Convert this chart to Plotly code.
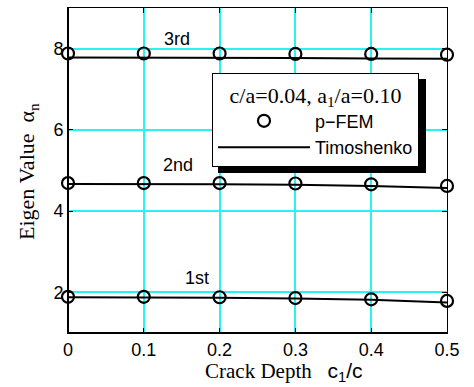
import plotly.graph_objects as go

crack_depth = [0.0, 0.1, 0.2, 0.3, 0.4, 0.5]

pfem_1st = [1.89, 1.89, 1.88, 1.86, 1.83, 1.79]
pfem_2nd = [4.69, 4.69, 4.69, 4.68, 4.66, 4.62]
pfem_3rd = [7.88, 7.88, 7.88, 7.87, 7.87, 7.85]

timo_1st = [1.88, 1.88, 1.87, 1.85, 1.82, 1.75]
timo_2nd = [4.67, 4.67, 4.66, 4.65, 4.62, 4.57]
timo_3rd = [7.78, 7.78, 7.77, 7.77, 7.76, 7.75]

mode_labels = ["1st", "2nd", "3rd"]
label_x = [0.170, 0.145, 0.144]
label_y = [2.36, 5.14, 8.23]

x_ticks = [0, 0.1, 0.2, 0.3, 0.4, 0.5]
x_ticktext = ["0", "0.1", "0.2", "0.3", "0.4", "0.5"]
y_ticks = [2, 4, 6, 8]

SANS = "Liberation Sans, Arial, sans-serif"
SERIF = "Liberation Serif, Times New Roman, serif"

fig = go.Figure()

for i, (tm, pf) in enumerate(zip([timo_1st, timo_2nd, timo_3rd], [pfem_1st, pfem_2nd, pfem_3rd])):
    fig.add_trace(go.Scatter(
        x=crack_depth, y=tm, mode="lines", name="Timoshenko",
        line=dict(color="black", width=2), showlegend=(i == 0),
        legendrank=2, cliponaxis=False))
    fig.add_trace(go.Scatter(
        x=crack_depth, y=pf, mode="markers", name="p\u2212FEM",
        marker=dict(symbol="circle-open", size=12, color="black", line=dict(width=2.2, color="black")),
        showlegend=(i == 0), legendrank=1, cliponaxis=False))

for lab, lx, ly in zip(mode_labels, label_x, label_y):
    fig.add_annotation(x=lx, y=ly, text=lab, showarrow=False,
                       font=dict(family=SANS, size=18, color="black"))

# axis titles
fig.add_annotation(xref="paper", yref="paper", x=(283 - 68) / 379, y=(333 - 372) / 325,
                   xanchor="center", yanchor="middle",
                   text='Crack Depth   <span style="font-family:Liberation Sans">c<sub>1</sub>/c</span>',
                   showarrow=False, font=dict(family=SERIF, size=21, color="black"))
fig.add_annotation(xref="paper", yref="paper", x=(28 - 68) / 379, y=(333 - 172) / 325,
                   xanchor="center", yanchor="middle",
                   text="Eigen Value  \u03b1<sub>n</sub>", textangle=-90,
                   showarrow=False, font=dict(family=SERIF, size=22, color="black"))

# thicker left / bottom frame lines
fig.add_shape(type="line", xref="paper", yref="paper", x0=0, x1=0, y0=0, y1=1,
              line=dict(color="black", width=2), layer="above")
fig.add_shape(type="line", xref="paper", yref="paper", x0=0, x1=1, y0=0, y1=0,
              line=dict(color="black", width=2), layer="above")

# legend box (pixels) and its drop shadow
lx0, lx1, ly0, ly1 = 212, 420, 73, 167
fig.add_shape(type="rect", xref="paper", yref="paper", layer="above",
              x0=(lx0 + 6 - 68) / 379, x1=(lx1 + 6 - 68) / 379,
              y0=(333 - (ly1 + 6)) / 325, y1=(333 - (ly0 + 6)) / 325,
              fillcolor="black", line=dict(width=0))

grid_col = "#2af2f2"
fig.update_layout(
    width=474, height=387, autosize=False,
    margin=dict(l=68, r=27, t=8, b=54),
    paper_bgcolor="white", plot_bgcolor="white",
    showlegend=True,
    legend=dict(
        x=(lx0 - 68) / 379, y=(333 - ly0) / 325, xanchor="left", yanchor="top",
        bgcolor="white", bordercolor="black", borderwidth=1,
        font=dict(family=SANS, size=18, color="black"),
        title=dict(text="c/a=0.04, a<sub>1</sub>/a=0.10", side="top center",
                   font=dict(family=SERIF, size=22, color="black")),
        itemwidth=92, tracegroupgap=0,
    ),
    xaxis=dict(range=[0, 0.5], tickvals=x_ticks, ticktext=x_ticktext,
               showgrid=True, gridcolor=grid_col, gridwidth=1.5,
               showline=True, linecolor="black", linewidth=1, mirror="ticks",
               ticks="inside", ticklen=5, tickcolor="black",
               tickfont=dict(family=SANS, size=18, color="black"),
               zeroline=False),
    yaxis=dict(range=[1, 9], tickvals=y_ticks,
               showgrid=True, gridcolor=grid_col, gridwidth=1.5,
               showline=True, linecolor="black", linewidth=1, mirror="ticks",
               ticks="inside", ticklen=5, tickcolor="black",
               tickfont=dict(family=SANS, size=18, color="black"),
               zeroline=False),
)

fig.write_html("out.html", config={"displayModeBar": False},
               post_script="document.body.style.margin='0';")
